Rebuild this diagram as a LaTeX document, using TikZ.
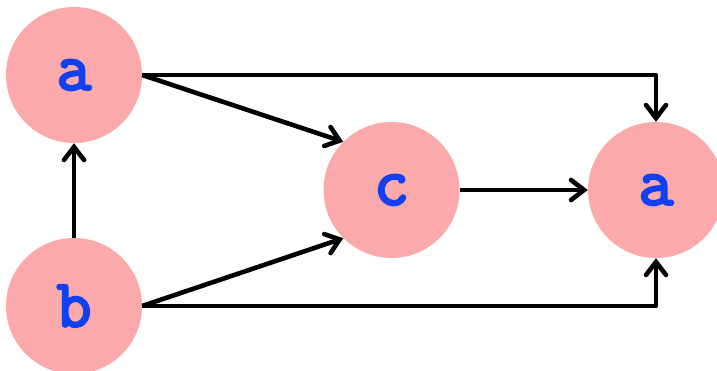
\documentclass[tikz,border=0pt]{standalone}
\usepackage{fontspec}
\newfontfamily\codefont[FakeBold=3.5]{Latin Modern Mono}
\usetikzlibrary{arrows.meta}
\definecolor{nodefill}{RGB}{252,169,171}
\definecolor{labelblue}{RGB}{16,64,240}
\tikzset{
  vertex/.style={circle, fill=nodefill, minimum size=136pt, inner sep=0pt,
    font=\codefont\fontsize{68}{68}\selectfont, text=labelblue},
  link/.style={line width=4.6pt, line join=round,
    -{Straight Barb[length=13pt,width=20pt,line width=4.6pt,line cap=round]}}
}
\begin{document}
\begin{tikzpicture}[x=1pt,y=1pt]
  \useasboundingbox (0,0) rectangle (717,371);
  \node[vertex] (a1) at (74,296) {a};
  \node[vertex] (b)  at (74,65)  {b};
  \node[vertex] (c)  at (391.5,181) {c};
  \node[vertex] (a2) at (656,181) {a};
  \draw[link] (b.north) -- (a1.south);
  \draw[link] (a1.east) -- (c.135);
  \draw[link] (b.east) -- (c.225);
  \draw[link] (c.east) -- (a2.west);
  \draw[link] (a1.east) -| (a2.north);
  \draw[link] (b.east) -| (a2.south);
\end{tikzpicture}
\end{document}
